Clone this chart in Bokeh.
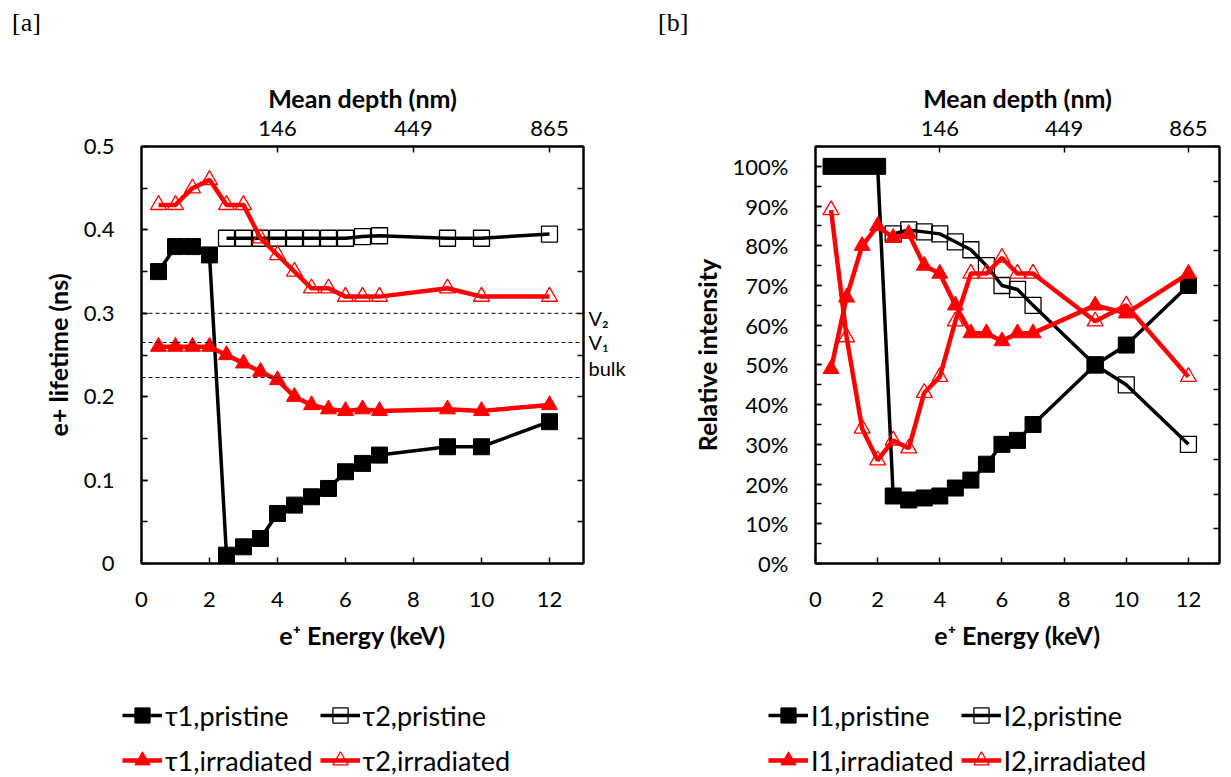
from bokeh.plotting import figure
from bokeh.models import (Range1d, LinearAxis, FixedTicker, SingleIntervalTicker,
                          NumeralTickFormatter, Span, Legend, LegendItem, Div)
from bokeh.layouts import row, column
from bokeh.embed import file_html
from bokeh.resources import INLINE

# ---------------- data ----------------
energy = [0.5, 1, 1.5, 2, 2.5, 3, 3.5, 4, 4.5, 5, 5.5, 6, 6.5, 7, 9, 10, 12]
energy_from25 = [2.5, 3, 3.5, 4, 4.5, 5, 5.5, 6, 6.5, 7, 9, 10, 12]

tau1_pristine = [0.35, 0.38, 0.38, 0.37, 0.01, 0.02, 0.03, 0.06, 0.07, 0.08, 0.09, 0.11, 0.12, 0.13, 0.14, 0.14, 0.17]
tau2_pristine = [0.39, 0.39, 0.39, 0.39, 0.39, 0.39, 0.39, 0.39, 0.392, 0.393, 0.39, 0.39, 0.395]
tau1_irradiated = [0.26, 0.26, 0.26, 0.26, 0.25, 0.24, 0.23, 0.22, 0.20, 0.19, 0.185, 0.183, 0.185, 0.183, 0.185, 0.183, 0.19]
tau2_irradiated = [0.43, 0.43, 0.45, 0.46, 0.43, 0.43, 0.39, 0.37, 0.35, 0.33, 0.33, 0.32, 0.32, 0.32, 0.33, 0.32, 0.32]

I1_pristine = [1.00, 1.00, 1.00, 1.00, 0.17, 0.16, 0.165, 0.17, 0.19, 0.21, 0.25, 0.30, 0.31, 0.35, 0.50, 0.55, 0.70]
I2_pristine = [0.83, 0.84, 0.835, 0.83, 0.81, 0.79, 0.75, 0.70, 0.69, 0.65, 0.50, 0.45, 0.30]
I1_irradiated = [0.49, 0.67, 0.80, 0.85, 0.82, 0.83, 0.75, 0.73, 0.65, 0.58, 0.58, 0.56, 0.58, 0.58, 0.65, 0.63, 0.73]
I2_irradiated = [0.89, 0.57, 0.34, 0.26, 0.31, 0.29, 0.43, 0.47, 0.61, 0.73, 0.73, 0.77, 0.73, 0.73, 0.61, 0.65, 0.47]

depth_tick_energy = [4, 8, 12]
depth_tick_labels = ["146", "449", "865"]

ref_levels = [0.30, 0.265, 0.223]
ref_label_pos = [0.294, 0.266, 0.235]
ref_labels = ["V\u2082", "V\u2081", "bulk"]

legend_a = ["τ1,pristine", "τ2,pristine", "τ1,irradiated", "τ2,irradiated"]
legend_b = ["I1,pristine", "I2,pristine", "I1,irradiated", "I2,irradiated"]

# series styles: colour, marker, filled, line width
series_styles = [("black", "square", True, 3.5), ("black", "square", False, 3.5),
                 ("red", "triangle", True, 4.5), ("red", "triangle", False, 4.5)]

series_a = [(energy, tau1_pristine), (energy_from25, tau2_pristine),
            (energy, tau1_irradiated), (energy, tau2_irradiated)]
series_b = [(energy, I1_pristine), (energy_from25, I2_pristine),
            (energy, I1_irradiated), (energy, I2_irradiated)]

FONT = "Lato"
TICK_SIZE = "22px"
TITLE_SIZE = "25px"


def style_axis(ax):
    ax.axis_line_color = "black"
    ax.axis_line_width = 2
    ax.major_tick_in = 6
    ax.major_tick_out = 0
    ax.minor_tick_in = 6
    ax.minor_tick_out = 0
    ax.major_tick_line_color = "black"
    ax.major_tick_line_width = 1.5
    ax.minor_tick_line_color = "black"
    ax.minor_tick_line_width = 1.5
    ax.major_label_text_font = FONT
    ax.major_label_text_font_size = TICK_SIZE
    ax.major_label_text_color = "black"
    ax.axis_label_text_font = FONT
    ax.axis_label_text_font_style = "bold"
    ax.axis_label_text_font_size = TITLE_SIZE
    ax.axis_label_text_color = "black"


def make_panel(width, height, left, right, top, bottom, y_end, y_interval,
               y_label, y_formatter):
    p = figure(width=width, height=height, output_backend="svg", toolbar_location=None,
               x_range=Range1d(0, 13), y_range=Range1d(0, y_end),
               min_border_left=left, min_border_right=right,
               min_border_top=top, min_border_bottom=bottom,
               background_fill_color="white", border_fill_color="white")
    p.xgrid.visible = False
    p.ygrid.visible = False
    p.outline_line_color = "black"
    p.outline_line_width = 2

    xa = p.xaxis[0]
    xa.ticker = SingleIntervalTicker(interval=2, num_minor_ticks=0)
    xa.axis_label = "e\u207a Energy (keV)"
    style_axis(xa)
    xa.major_label_standoff = 28
    xa.axis_label_standoff = 10

    ya = p.yaxis[0]
    ya.ticker = SingleIntervalTicker(interval=y_interval, num_minor_ticks=2)
    ya.formatter = y_formatter
    ya.axis_label = y_label
    style_axis(ya)
    ya.major_label_standoff = 27
    ya.axis_label_standoff = 8

    top_ax = LinearAxis(ticker=FixedTicker(ticks=depth_tick_energy, minor_ticks=[]),
                        major_label_overrides={e: t for e, t in zip(depth_tick_energy, depth_tick_labels)},
                        axis_label="Mean depth (nm)")
    style_axis(top_ax)
    top_ax.major_label_standoff = 11
    top_ax.axis_label_standoff = 5
    p.add_layout(top_ax, "above")
    return p


def add_series(p, xs, ys, style, size=16):
    color, marker, filled, lw = style
    ln = p.line(xs, ys, line_color=color, line_width=lw)
    if filled:
        sc = p.scatter(xs, ys, marker=marker, size=size, fill_color=color, line_color=color, line_width=1)
    else:
        sc = p.scatter(xs, ys, marker=marker, size=size, fill_color=None, line_color=color, line_width=1.3)
    return [ln, sc]


def legend_figure(width, labels, series, vx, vy):
    # the same series are drawn out of view; only their legend is visible
    f = figure(width=width, height=97, output_backend="svg", toolbar_location=None,
               x_axis_type=None, y_axis_type=None, x_range=Range1d(100, 101), y_range=Range1d(100, 101),
               min_border_left=0, min_border_right=0, min_border_top=0, min_border_bottom=0,
               background_fill_color="white", border_fill_color="white")
    f.outline_line_color = None
    f.grid.visible = False
    rends = [add_series(f, xs, ys, st) for (xs, ys), st in zip(series, series_styles)]
    items = [LegendItem(label=l, renderers=r) for l, r in zip(labels, rends)]
    leg = Legend(items=items, location=(vx, vy), orientation="horizontal", ncols=2,
                 background_fill_alpha=0, border_line_color=None, padding=0, margin=0,
                 spacing=7, label_standoff=3, glyph_width=40, glyph_height=38,
                 label_text_font=FONT, label_text_font_size="27px", label_height=38,
                 label_text_color="black")
    f.add_layout(leg, "center")
    return f


def title_div(text, width, indent):
    return Div(text=text, width=width, height=45, margin=0,
               styles={"font-family": "Liberation Serif", "font-size": "26px",
                       "text-indent": f"{indent}px", "line-height": "45px", "color": "black"})


W_A = 628
W_B = 603

# ---------------- panel a ----------------
pa = make_panel(W_A, 635, 141, 45, 101, 117, 0.5, 0.1, "e+ lifetime (ns)",
                NumeralTickFormatter(format="0.[0]"))

right_a = LinearAxis(ticker=FixedTicker(ticks=ref_label_pos,
                                        minor_ticks=[i * 0.05 for i in range(11)]),
                     major_label_overrides={v: t for v, t in zip(ref_label_pos, ref_labels)})
style_axis(right_a)
right_a.major_tick_in = 0
right_a.major_label_text_font_size = "20px"
right_a.major_label_standoff = 5
pa.add_layout(right_a, "right")

for lev in ref_levels:
    pa.add_layout(Span(location=lev, dimension="width", line_color="black",
                       line_width=1, line_dash="4 3"))

for (xs, ys), st in zip(series_a, series_styles):
    add_series(pa, xs, ys, st)

# ---------------- panel b ----------------
pb = make_panel(W_B, 635, 187, 12, 100, 113, 1.05, 0.1, "Relative intensity",
                NumeralTickFormatter(format="0%"))
pb.extra_y_ranges = {"right": Range1d(0, 12)}
right_b = LinearAxis(y_range_name="right", ticker=FixedTicker(ticks=[], minor_ticks=list(range(13))))
style_axis(right_b)
right_b.major_label_standoff = 0
pb.add_layout(right_b, "right")

for (xs, ys), st in zip(series_b, series_styles):
    add_series(pb, xs, ys, st)

la = legend_figure(W_A, legend_a, series_a, 122, -2)
lb = legend_figure(W_B, legend_b, series_b, 140, -2)

layout = column(row(title_div("[a]", W_A, 12), title_div("[b]", W_B, 30)),
                row(pa, pb), row(la, lb))
open("out.html", "w").write(file_html(layout, INLINE))
